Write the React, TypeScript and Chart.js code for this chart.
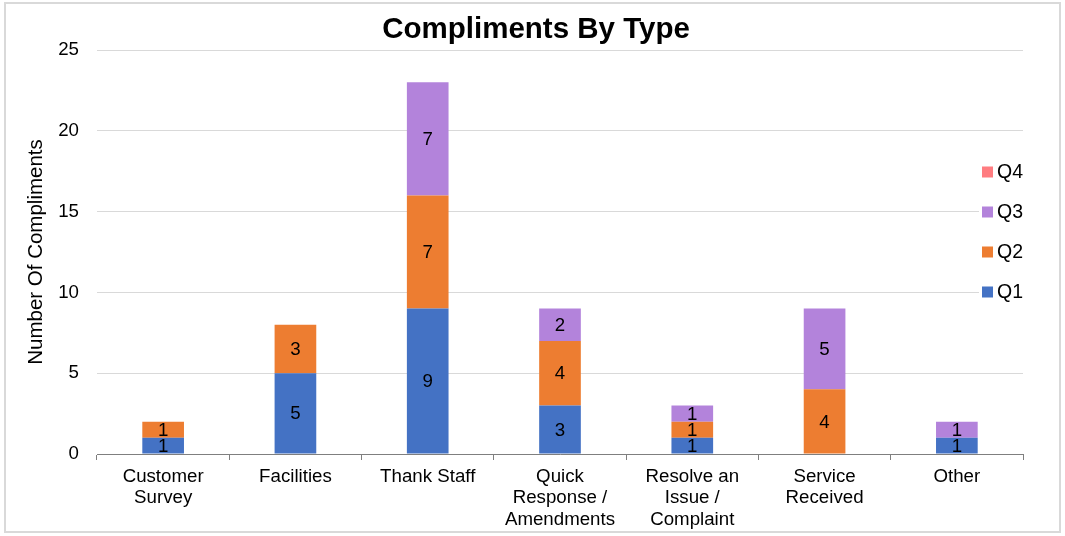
import React, { useEffect, useRef } from 'react';
import { Chart, registerables } from 'chart.js';

Chart.register(...registerables);

const categories: string[][] = [
  ['Customer', 'Survey'],
  ['Facilities'],
  ['Thank Staff'],
  ['Quick', 'Response /', 'Amendments'],
  ['Resolve an', 'Issue /', 'Complaint'],
  ['Service', 'Received'],
  ['Other'],
];
const q1Values = [1, 5, 9, 3, 1, 0, 1];
const q2Values = [1, 3, 7, 4, 1, 4, 0];
const q3Values = [0, 0, 7, 2, 1, 5, 1];
const q4Values = [0, 0, 0, 0, 0, 0, 0];
const seriesNames = ['Q1', 'Q2', 'Q3', 'Q4'];
const seriesColors = ['#4472C4', '#ED7D31', '#B383DB', '#FF7C80'];
const yMin = 0;
const yMax = 25;
const yStep = 5;
const chartTitle = 'Compliments By Type';
const yAxisTitle = 'Number Of Compliments';

const FONT = "'Liberation Sans', Arial, Helvetica, sans-serif";
const FS = 18.7;

const framePlugin = {
  id: 'frame',
  beforeDraw(chart: any) {
    const { ctx, width, height } = chart;
    ctx.save();
    ctx.fillStyle = '#ffffff';
    ctx.fillRect(0, 0, width, height);
    ctx.strokeStyle = '#d9d9d9';
    ctx.lineWidth = 2;
    ctx.strokeRect(5, 3, width - 10, height - 7);
    ctx.font = `bold 29.5px ${FONT}`;
    ctx.fillStyle = '#000000';
    ctx.textAlign = 'center';
    ctx.textBaseline = 'alphabetic';
    ctx.fillText(chartTitle, width / 2 + 3.5, 38);
    ctx.restore();
  },
};

const labelPlugin = {
  id: 'segLabels',
  afterDatasetsDraw(chart: any) {
    const { ctx } = chart;
    ctx.save();
    ctx.font = `${FS}px ${FONT}`;
    ctx.fillStyle = '#000000';
    ctx.textAlign = 'center';
    ctx.textBaseline = 'middle';
    chart.data.datasets.forEach((ds: any, di: number) => {
      const meta = chart.getDatasetMeta(di);
      if (meta.hidden) return;
      meta.data.forEach((el: any, i: number) => {
        const v = ds.data[i];
        if (!v) return;
        const props = el.getProps(['x', 'y', 'base'], true);
        ctx.fillText(String(v), props.x, (props.y + props.base) / 2 + 1);
      });
    });
    ctx.restore();
  },
};

const legendPlugin = {
  id: 'customLegend',
  afterDraw(chart: any) {
    const { ctx, chartArea } = chart;
    ctx.save();
    const boxLeft = chartArea.right - 44;
    const firstY = chartArea.top + 122;
    const gap = 40;
    ctx.fillStyle = '#ffffff';
    ctx.fillRect(boxLeft, firstY - 18, 52, gap * 3 + 36);
    ctx.font = `19.5px ${FONT}`;
    ctx.textBaseline = 'middle';
    ctx.textAlign = 'left';
    const order = [3, 2, 1, 0];
    order.forEach((si, k) => {
      const cy = firstY + k * gap;
      ctx.fillStyle = seriesColors[si];
      ctx.fillRect(chartArea.right - 41, cy - 5.5, 11, 11);
      ctx.fillStyle = '#000000';
      ctx.fillText(seriesNames[si], chartArea.right - 26, cy + 1);
    });
    ctx.restore();
  },
};

export default function App() {
  const ref = useRef<HTMLCanvasElement | null>(null);
  useEffect(() => {
    document.body.style.margin = '0';
    const canvas = ref.current;
    if (!canvas) return;
    const seriesValues = [q1Values, q2Values, q3Values, q4Values];
    const chart = new Chart(canvas, {
      type: 'bar',
      data: {
        labels: categories,
        datasets: seriesNames.map((name, i) => ({
          label: name,
          data: seriesValues[i],
          backgroundColor: seriesColors[i],
          borderWidth: 0,
          categoryPercentage: 1,
          barPercentage: 0.315,
        })),
      },
      options: {
        responsive: false,
        animation: false,
        devicePixelRatio: 1,
        layout: { padding: { left: 5, right: 42, top: 50, bottom: 0 } },
        plugins: {
          legend: { display: false },
          tooltip: { enabled: false },
          title: { display: false },
        },
        scales: {
          x: {
            stacked: true,
            afterFit: (s: any) => { s.height = 82; },
            grid: {
              display: true,
              offset: true,
              drawOnChartArea: false,
              drawTicks: true,
              tickLength: 6,
              color: '#7f7f7f',
            },
            border: { display: true, color: '#7f7f7f', width: 1 },
            ticks: {
              color: '#000000',
              font: { family: FONT, size: FS, lineHeight: 1.15 },
              padding: 6,
              maxRotation: 0,
              autoSkip: false,
            },
          },
          y: {
            stacked: true,
            min: yMin,
            max: yMax,
            afterFit: (s: any) => { s.width = 92; },
            grid: { color: '#d9d9d9', drawTicks: false, lineWidth: 1 },
            border: { display: false },
            ticks: {
              stepSize: yStep,
              color: '#000000',
              font: { family: FONT, size: FS },
              padding: 18,
            },
            title: {
              display: true,
              text: yAxisTitle,
              color: '#000000',
              font: { family: FONT, size: 20.5 },
              padding: { top: 19.5, bottom: 0 },
            },
          },
        },
      },
      plugins: [framePlugin, labelPlugin, legendPlugin],
    });
    return () => chart.destroy();
  }, []);
  return (
    <div style={{ width: 1065, height: 536 }}>
      <canvas ref={ref} width={1065} height={536} style={{ display: 'block' }} />
    </div>
  );
}
